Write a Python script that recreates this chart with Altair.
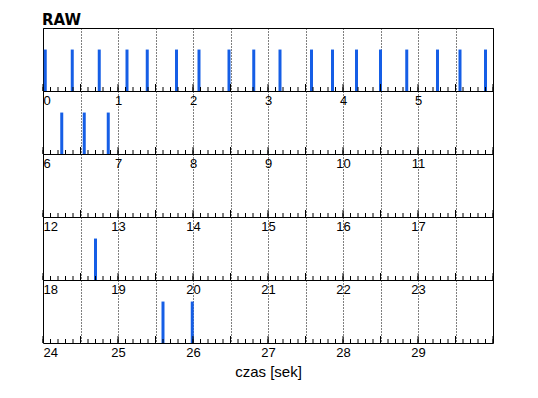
import altair as alt
import pandas as pd

TITLE = "RAW"
X_TITLE = "czas [sek]"
ROW_SECONDS = 6
ROW_STARTS = [0, 6, 12, 18, 24]

EVENT_TIMES = [0.03, 0.39, 0.75, 1.12, 1.39, 1.78, 2.08, 2.48, 2.81, 3.16,
               3.58, 3.86, 4.18, 4.50, 4.85, 5.26, 5.56, 5.90,
               6.25, 6.55, 6.87,
               18.70,
               25.60, 25.99]
EVENT_AMPS = [1.0, 1.0, 1.0, 1.0, 1.0, 1.0, 1.0, 1.0, 1.0, 1.0,
              1.0, 1.0, 1.0, 1.0, 1.0, 1.0, 1.0, 1.0,
              1.0, 1.0, 1.0,
              1.0,
              1.0, 1.0]

BAR_COLOR = "#155ee6"
W, H = 450, 63
FONT = "Liberation Sans"

df = pd.DataFrame({"t": EVENT_TIMES, "amp": EVENT_AMPS})

rows = []
for i, lo in enumerate(ROW_STARTS):
    hi = lo + ROW_SECONDS
    sub = df[(df.t >= lo) & (df.t < hi)]
    halves = [lo + k * 0.5 for k in range(2 * ROW_SECONDS + 1)]
    tenths = [round(lo + k * 0.1, 1) for k in range(10 * ROW_SECONDS + 1)]
    last = i == len(ROW_STARTS) - 1

    axis_kw = dict(
        values=halves,
        orient="bottom",
        labelExpr=f"(datum.value % 1 == 0 && datum.value < {hi}) ? format(datum.value, '.0f') : ''",
        grid=True, gridDash=[1, 2], gridColor="black", gridOpacity=1, gridWidth=1,
        ticks=False, domain=False,
        labelFlush=True, labelOverlap=False, labelPadding=3,
        labelFont=FONT, labelFontSize=13, labelColor="black",
        title=X_TITLE if last else "",
        titleFont=FONT, titleFontSize=15, titleFontWeight="normal",
        titleColor="black", titlePadding=5,
    )

    def xenc(field):
        return alt.X(field, type="quantitative",
                     scale=alt.Scale(domain=[lo, hi], nice=False, zero=False),
                     axis=alt.Axis(**axis_kw))

    bars = alt.Chart(sub).mark_rule(color=BAR_COLOR, strokeWidth=3).encode(
        x=xenc("t"),
        y=alt.Y("amp:Q", scale=alt.Scale(domain=[0, 1.52]), axis=None),
        y2=alt.datum(0),
    )
    major = alt.Chart(pd.DataFrame({"t": halves})).mark_rule(
        color="black", strokeWidth=1
    ).encode(
        x=xenc("t"),
        y=alt.value(H - 7),
        y2=alt.value(H),
    )
    minor = alt.Chart(pd.DataFrame({"t": tenths})).mark_rule(
        color="black", strokeWidth=1
    ).encode(
        x=xenc("t"),
        y=alt.value(H - 4),
        y2=alt.value(H),
    )
    rows.append(
        alt.layer(bars, major, minor).properties(width=W, height=H)
    )

chart = (
    alt.vconcat(*rows, spacing=0, bounds="flush")
    .properties(
        title=alt.TitleParams(TITLE, anchor="start", font="DejaVu Sans", fontSize=15,
                              fontWeight="bold", color="black", offset=0),
        padding={"top": 4, "left": 34, "right": 5, "bottom": 5},
        background="white",
    )
    .configure_view(stroke="black", strokeWidth=1)
)

chart.save("out.html", embed_options={"renderer": "svg", "actions": False})
